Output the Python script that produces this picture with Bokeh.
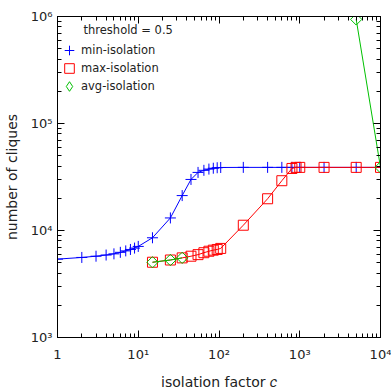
import numpy as np
from bokeh.plotting import figure
from bokeh.models import Range1d, LogAxis, LogTicker, Legend, LegendItem, Label
from bokeh.embed import file_html
from bokeh.resources import INLINE

# ---- data ----
min_x = [1, 2, 3, 4, 5, 6, 7, 8, 9, 10, 15, 25, 35, 45, 55, 65, 75, 85, 95, 105,
         200, 400, 600, 800, 1000, 2000, 5000, 10000]
min_y = [5400, 5600, 5750, 5900, 6050, 6250, 6450, 6650, 6850, 7100, 8550, 13100,
         21200, 30000, 34900, 36500, 37500, 38200, 38600, 38800,
         38900, 38900, 38900, 38900, 38900, 38900, 38900, 38900]

max_x = [15, 25, 35, 45, 55, 65, 75, 85, 95, 105, 200, 400, 600, 800, 900, 1000,
         2000, 5000, 10000]
max_y = [5050, 5300, 5550, 5750, 5950, 6200, 6400, 6550, 6650, 6800, 11200, 19800,
         29200, 38000, 38900, 38900, 38900, 38900, 38900]

avg_x = [15, 25, 35, 5000, 10000]
avg_y = [5050, 5300, 5550, 940000, 38900]
avg_segment = [0, 0, 0, 1, 1]

x_tick_labels = {1: "1", 10: "10\u00b9", 100: "10\u00b2", 1000: "10\u00b3", 10000: "10\u2074"}
y_tick_labels = {1000: "10\u00b3", 10000: "10\u2074", 100000: "10\u2075", 1000000: "10\u2076"}

legend_title = "threshold = 0.5"
names = ["min-isolation", "max-isolation", "avg-isolation"]
colors = ["#0000ff", "#ff0000", "#00c000"]
x_label = "isolation factor \U0001D450"
y_label = "number of cliques"

FONT = "DejaVu Sans"
TXT = "#222222"

p = figure(width=391, height=392, x_axis_type="log", y_axis_type="log",
           x_range=Range1d(1, 10000), y_range=Range1d(1000, 1e6),
           output_backend="svg", toolbar_location=None,
           min_border_left=55, min_border_right=11, min_border_top=16, min_border_bottom=52)
p.xgrid.visible = False
p.ygrid.visible = False
p.outline_line_color = "black"
p.outline_line_width = 1
p.background_fill_color = "white"
p.border_fill_color = "white"

def style_axis(ax, labels=True):
    ax.ticker = LogTicker(num_minor_ticks=10)
    ax.major_tick_in = 7
    ax.major_tick_out = 0
    ax.minor_tick_in = 4
    ax.minor_tick_out = 0
    ax.axis_line_color = "black"
    ax.major_tick_line_color = "black"
    ax.minor_tick_line_color = "black"
    ax.major_label_text_font = FONT
    if labels:
        ax.major_label_text_font_size = "13px"
        ax.major_label_text_color = TXT
    else:
        ax.major_label_text_font_size = "1px"
        ax.major_label_text_alpha = 0
        ax.major_label_standoff = 0
        ax.axis_label_standoff = 0
    ax.axis_label_text_font = FONT
    ax.axis_label_text_font_size = "14px"
    ax.axis_label_text_font_style = "normal"
    ax.axis_label_text_color = TXT

style_axis(p.xaxis[0])
style_axis(p.yaxis[0])
p.xaxis[0].major_label_overrides = x_tick_labels
p.yaxis[0].major_label_overrides = y_tick_labels
p.xaxis[0].axis_label = x_label
p.yaxis[0].axis_label = y_label
p.xaxis[0].major_label_standoff = 9
p.xaxis[0].axis_label_standoff = 9
p.yaxis[0].major_label_standoff = 5
p.yaxis[0].axis_label_standoff = 8

top = LogAxis()
right = LogAxis()
style_axis(top, labels=False)
style_axis(right, labels=False)
p.add_layout(top, "above")
p.add_layout(right, "right")

# min-isolation
p.line(min_x, min_y, line_color=colors[0], line_width=1)
r_min = p.scatter(min_x, min_y, marker="cross", size=11, line_color=colors[0], line_width=1)

# max-isolation
p.line(max_x, max_y, line_color=colors[1], line_width=1)
r_max = p.scatter(max_x, max_y, marker="square", size=10, line_color=colors[1],
                  fill_color=None, line_width=1)

# avg-isolation (two separate segments)
for seg in sorted(set(avg_segment)):
    xs = [x for x, s in zip(avg_x, avg_segment) if s == seg]
    ys = [y for y, s in zip(avg_y, avg_segment) if s == seg]
    p.line(xs, ys, line_color=colors[2], line_width=1)
r_avg = p.scatter(avg_x, avg_y, marker="square", angle=np.pi / 4, size=8,
                  line_color=colors[2], fill_color=None, line_width=1)
# legend swatch for avg-isolation (diamond; a single NaN point, never drawn)
r_avg_key = p.scatter([np.nan], [np.nan], marker="diamond", size=10, line_color=colors[2],
                      fill_color=None, line_width=1)

# legend: one row per Legend so that rows are 18px apart with large swatches
rows = [(names[0], r_min, 275), (names[1], r_max, 257), (names[2], r_avg_key, 239)]
for name, rend, vy in rows:
    lg = Legend(items=[LegendItem(label=name, renderers=[rend])], location=(0, vy))
    lg.label_text_font = FONT
    lg.label_text_font_size = "11.5px"
    lg.label_text_color = TXT
    lg.border_line_color = None
    lg.background_fill_alpha = 0
    lg.margin = 0
    lg.padding = 3
    lg.glyph_width = 24
    lg.glyph_height = 24
    lg.label_height = 24
    lg.label_standoff = 0
    lg.spacing = 0
    p.add_layout(lg, "center")

title = Label(x=26, y=308, x_units="screen", y_units="screen", text=legend_title,
              text_font=FONT, text_font_size="11.5px", text_color=TXT,
              text_baseline="middle", text_align="left")
p.add_layout(title)

open("out.html", "w").write(file_html(p, INLINE))
